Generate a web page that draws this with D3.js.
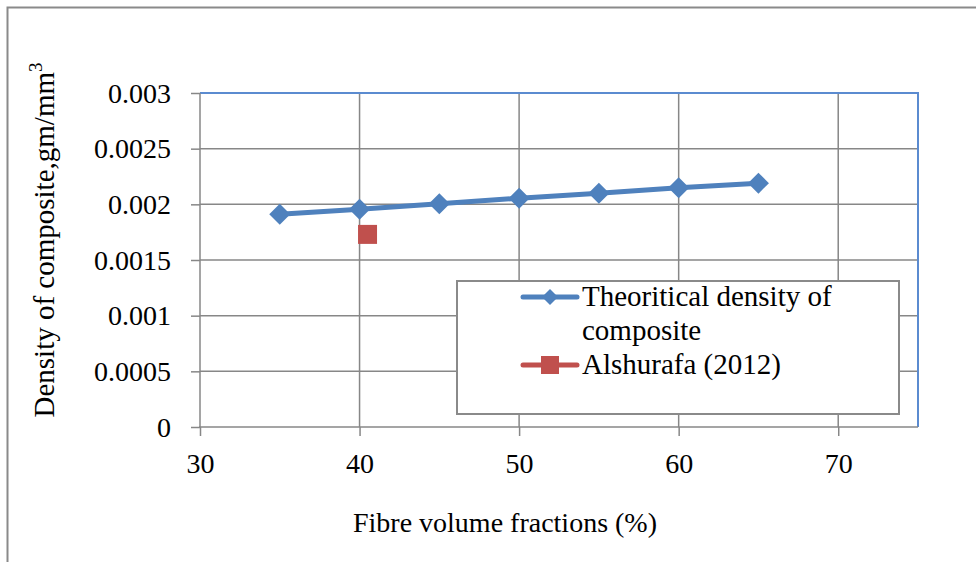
<!DOCTYPE html>
<html><head><meta charset="utf-8">
<script src="https://cdn.jsdelivr.net/npm/d3@7/dist/d3.min.js"></script>
<style>body{margin:0;background:#fff}svg{display:block}text{font-family:"Liberation Serif","Times New Roman",serif;fill:#000}</style>
</head><body><svg id="c" width="976" height="562"></svg>
<script>
const fibre = [35, 40, 45, 50, 55, 60, 65];
const density = [0.00191, 0.001955, 0.002005, 0.002055, 0.0021, 0.00215, 0.00219];
const alshurafaX = [40.5];
const alshurafaY = [0.00173];
const xTicks = [30, 40, 50, 60, 70];
const yTicks = [0, 0.0005, 0.001, 0.0015, 0.002, 0.0025, 0.003];
const yTickLabels = ["0", "0.0005", "0.001", "0.0015", "0.002", "0.0025", "0.003"];
const seriesNames = ["Theoritical density of", "composite", "Alshurafa (2012)"];

const svg = d3.select("#c");
svg.append("rect").attr("width",976).attr("height",562).attr("fill","#fff");
svg.append("rect").attr("x",7.5).attr("y",7.5).attr("width",1000).attr("height",600)
  .attr("fill","none").attr("stroke","#8a8a8a").attr("stroke-width",2);

const L=200, R=918, T=93, B=427;
const x = d3.scaleLinear().domain([30,75]).range([L,R]);
const y = d3.scaleLinear().domain([0,0.003]).range([B,T]);
const grid = "#878787";

// gridlines
svg.append("g").selectAll("line").data(yTicks.slice(1)).join("line")
  .attr("x1",L).attr("x2",R).attr("y1",d=>y(d)).attr("y2",d=>y(d))
  .attr("stroke",grid).attr("stroke-width",1.5);
svg.append("g").selectAll("line").data(xTicks.slice(1)).join("line")
  .attr("y1",T).attr("y2",B).attr("x1",d=>x(d)).attr("x2",d=>x(d))
  .attr("stroke",grid).attr("stroke-width",1.5);
// plot border top/right blue
svg.append("path").attr("d",`M${L},${T}H${R}V${B}`).attr("fill","none")
  .attr("stroke","#5b8bd0").attr("stroke-width",2);

// axes
const yAxis = d3.axisLeft(y).tickValues(yTicks).tickFormat((d,i)=>yTickLabels[i]).tickSize(9).tickPadding(20);
const gy = svg.append("g").attr("transform",`translate(${L},0)`).call(yAxis);
const xAxis = d3.axisBottom(x).tickValues(xTicks).tickFormat(d=>d).tickSize(9).tickPadding(17);
const gx = svg.append("g").attr("transform",`translate(0,${B})`).call(xAxis);
[gx,gy].forEach(g=>{
  g.attr("font-family",null);
  g.select(".domain").remove();
  g.selectAll(".tick line").attr("stroke",grid).attr("stroke-width",1.5);
  g.selectAll("text").attr("font-size",28).attr("font-family",'"Liberation Serif","Times New Roman",serif').attr("fill","#000");
});
gy.selectAll("text").attr("dy","0.33em");
svg.append("line").attr("x1",L).attr("x2",L).attr("y1",T).attr("y2",B).attr("stroke",grid).attr("stroke-width",1.5);
svg.append("line").attr("x1",L-1).attr("x2",R).attr("y1",B).attr("y2",B).attr("stroke",grid).attr("stroke-width",1.5);

// series line
const pts = fibre.map((f,i)=>[f,density[i]]);
svg.append("path").datum(pts).attr("d",d3.line().x(d=>x(d[0])).y(d=>y(d[1])))
  .attr("fill","none").attr("stroke","#4f81bd").attr("stroke-width",5).attr("stroke-linejoin","round");
const diamond = (cx,cy,r)=>`M${cx},${cy-r}L${cx+r},${cy}L${cx},${cy+r}L${cx-r},${cy}Z`;
svg.append("g").selectAll("path").data(pts).join("path")
  .attr("d",d=>diamond(x(d[0]),y(d[1]),10.5)).attr("fill","#4f81bd");
svg.append("g").selectAll("rect").data(alshurafaX.map((a,i)=>[a,alshurafaY[i]])).join("rect")
  .attr("x",d=>x(d[0])-9.5).attr("y",d=>y(d[1])-9.5).attr("width",19).attr("height",19).attr("fill","#c0504d");

// legend
svg.append("rect").attr("x",457).attr("y",281).attr("width",442).attr("height",133)
  .attr("fill","#fff").attr("stroke","#8a8a8a").attr("stroke-width",2);
svg.append("line").attr("x1",523).attr("x2",577).attr("y1",297).attr("y2",297).attr("stroke","#4f81bd").attr("stroke-width",5).attr("stroke-linecap","round");
svg.append("path").attr("d",diamond(550,297,8)).attr("fill","#4f81bd");
svg.append("line").attr("x1",523).attr("x2",577).attr("y1",365).attr("y2",365).attr("stroke","#c0504d").attr("stroke-width",5).attr("stroke-linecap","round");
svg.append("rect").attr("x",541).attr("y",356).attr("width",18).attr("height",18).attr("fill","#c0504d");
const lt = svg.append("g").attr("font-size",29);
lt.append("text").attr("x",582).attr("y",306).text(seriesNames[0]);
lt.append("text").attr("x",582).attr("y",340).text(seriesNames[1]);
lt.append("text").attr("x",582).attr("y",374).text(seriesNames[2]);

// titles
svg.append("text").attr("x",505).attr("y",532).attr("text-anchor","middle").attr("font-size",28)
  .text("Fibre volume fractions (%)");
const yt = svg.append("text").attr("transform","translate(54,240) rotate(-90)").attr("text-anchor","middle").attr("font-size",29);
yt.append("tspan").text("Density of composite,gm/mm");
yt.append("tspan").attr("font-size",19).attr("dy",-12).text("3");
</script></body></html>
